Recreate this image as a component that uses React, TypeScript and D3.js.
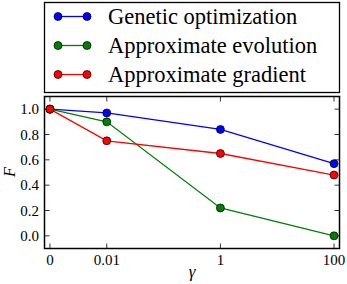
import { useEffect, useRef } from 'react';
import * as d3 from 'd3';

const gammas = [0, 0.01, 1, 100];
const xTickLabels = ['0', '0.01', '1', '100'];
const yTicks = [0.0, 0.2, 0.4, 0.6, 0.8, 1.0];

const geneticOpt = [1.0, 0.97, 0.84, 0.57];
const approxEvolution = [1.0, 0.9, 0.22, 0.0];
const approxGradient = [1.0, 0.75, 0.65, 0.48];

const seriesNames = ['Genetic optimization', 'Approximate evolution', 'Approximate gradient'];
const seriesColors = ['#0000ff', '#008000', '#ff0000'];

// symlog-like: linear below 0.01, log10 above (half a decade for the linear part)
const symlog = (v: number) => (v <= 0.01 ? (0.5 * v) / 0.01 : 0.5 + Math.log10(v / 0.01) / 2);

function App() {
  const ref = useRef<SVGSVGElement>(null);

  useEffect(() => {
    const svg = d3.select(ref.current);
    svg.selectAll('*').remove();

    const left = 44.5, right = 339.5, top = 96.5, bottom = 248.5;
    const font = "'Liberation Serif', serif";

    const x = d3.scaleLinear().domain([-0.048, 2.548]).range([left, right]);
    const y = d3.scaleLinear().domain([-0.1, 1.1]).range([bottom, top]);

    // legend
    svg.append('rect')
      .attr('x', 44.5).attr('y', 2.5).attr('width', 295).attr('height', 90)
      .attr('fill', 'white').attr('stroke', 'black').attr('stroke-width', 1.3);

    const legendRows = [16.5, 45.5, 74.5];
    seriesNames.forEach((name, i) => {
      const g = svg.append('g');
      g.append('line')
        .attr('x1', 58).attr('x2', 87).attr('y1', legendRows[i]).attr('y2', legendRows[i])
        .attr('stroke', seriesColors[i]).attr('stroke-width', 1.3);
      [58, 87].forEach((cx) => {
        g.append('circle').attr('cx', cx).attr('cy', legendRows[i]).attr('r', 4)
          .attr('fill', seriesColors[i]).attr('stroke', 'black').attr('stroke-width', 0.7);
      });
      g.append('text')
        .attr('x', 108).attr('y', legendRows[i] + 7)
        .style('font-family', font).attr('font-size', 22.5)
        .text(name);
    });

    // plot frame
    svg.append('rect')
      .attr('x', left).attr('y', top).attr('width', right - left).attr('height', bottom - top)
      .attr('fill', 'white').attr('stroke', 'black').attr('stroke-width', 1.5);

    // ticks
    const tickLen = 5;
    gammas.forEach((g, i) => {
      const px = x(symlog(g));
      svg.append('line').attr('x1', px).attr('x2', px).attr('y1', bottom).attr('y2', bottom - tickLen)
        .attr('stroke', 'black').attr('stroke-width', 0.8);
      svg.append('line').attr('x1', px).attr('x2', px).attr('y1', top).attr('y2', top + tickLen)
        .attr('stroke', 'black').attr('stroke-width', 0.8);
      svg.append('text').attr('x', px).attr('y', 265)
        .attr('text-anchor', 'middle').style('font-family', font).attr('font-size', 15)
        .text(xTickLabels[i]);
    });
    yTicks.forEach((t) => {
      const py = y(t);
      svg.append('line').attr('x1', left).attr('x2', left + tickLen).attr('y1', py).attr('y2', py)
        .attr('stroke', 'black').attr('stroke-width', 0.8);
      svg.append('line').attr('x1', right).attr('x2', right - tickLen).attr('y1', py).attr('y2', py)
        .attr('stroke', 'black').attr('stroke-width', 0.8);
      svg.append('text').attr('x', 39).attr('y', py + 5)
        .attr('text-anchor', 'end').style('font-family', font).attr('font-size', 15)
        .text(t.toFixed(1));
    });

    // series
    const allSeries = [geneticOpt, approxEvolution, approxGradient];
    const line = d3.line<number>()
      .x((_, i) => x(symlog(gammas[i])))
      .y((d) => y(d));
    allSeries.forEach((vals, si) => {
      svg.append('path').attr('d', line(vals))
        .attr('fill', 'none').attr('stroke', seriesColors[si]).attr('stroke-width', 1.3);
    });
    allSeries.forEach((vals, si) => {
      svg.append('g').selectAll('circle').data(vals).enter().append('circle')
        .attr('cx', (_, i) => x(symlog(gammas[i])))
        .attr('cy', (d) => y(d))
        .attr('r', 4)
        .attr('fill', seriesColors[si]).attr('stroke', 'black').attr('stroke-width', 0.7);
    });

    // axis labels
    svg.append('text')
      .attr('transform', 'translate(15,172) rotate(-90)')
      .attr('text-anchor', 'middle').style('font-family', font).attr('font-size', 16)
      .attr('font-style', 'italic')
      .text('F');
    svg.append('text')
      .attr('x', 192).attr('y', 277)
      .attr('text-anchor', 'middle').style('font-family', font).attr('font-size', 17)
      .attr('font-style', 'italic')
      .text('γ');
  }, []);

  return (
    <svg ref={ref} width={347} height={284}
      style={{ position: 'absolute', left: 0, top: 0, background: 'white' }} />
  );
}

export default App;
